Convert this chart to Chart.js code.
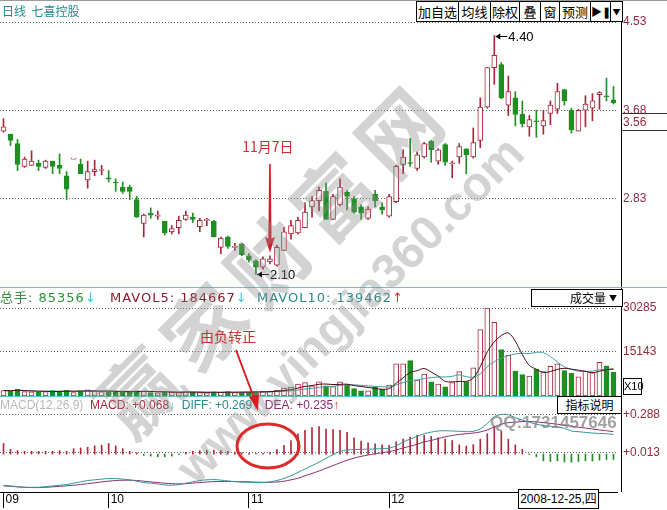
<!DOCTYPE html>
<html>
<head>
<meta charset="utf-8">
<script src="https://cdn.jsdelivr.net/npm/chart.js@4.4.0/dist/chart.umd.min.js"></script>
<style>
  body { margin: 0; background: #fff; }
  #wrap { position: relative; width: 667px; height: 510px; overflow: hidden; font-family: "Noto Sans CJK SC", "Liberation Sans", sans-serif; }
  canvas { position: absolute; left: 0; }
  .t { position: absolute; white-space: nowrap; font-size: 12px; line-height: 14px; font-family: "Liberation Sans", "Noto Sans CJK SC", sans-serif; }
  .vh { position: absolute; white-space: nowrap; top: 291px; font-size: 13px; line-height: 14px; letter-spacing: 1px; font-family: "DejaVu Sans", "Noto Sans CJK SC", sans-serif; }
  .box { position: absolute; border: 1px solid #000; background: #fff; font-size: 12px; text-align: center; box-sizing: border-box; }
  #tb { position: absolute; left: 416px; top: 1px; height: 21px; display: flex; border: 1px solid #000; border-right: none; background: #fff; box-sizing: border-box; }
  #tb span { border-right: 1px solid #000; font-size: 13px; line-height: 19px; text-align: center; box-sizing: border-box; }
  .wm { position: absolute; text-align: center; font-weight: bold; color: rgba(140,140,140,0.38); transform: rotate(-45deg); white-space: nowrap; pointer-events: none; }
</style>
</head>
<body>
<div id="wrap">
  <canvas id="price" width="667" height="287" style="top:0"></canvas>
  <canvas id="vol" width="667" height="109" style="top:287px"></canvas>
  <canvas id="macd" width="667" height="114" style="top:396px"></canvas>
</div>
<script>
// month labels on the bottom axis (index -> text)
var monthLabels = { 0: '09', 15: '10', 35: '11', 55: '12' };
var priceTicks = [4.53, 3.68, 2.83];
var volTicks = [30285, 15143];
var macdTicks = [0.288, 0.013];

var open = [3.48,3.45,3.36,3.14,3.15,3.17,3.13,3.19,3.15,3.05, 3.21,3.16,3.01,3.09,3.10,3.03,2.99,2.94,2.94,2.82,
  2.59,2.69,2.66,2.61,2.51,2.55,2.63,2.65,2.56,2.62, 2.61,2.36,2.46,2.36,2.39,2.28,2.23,2.17,2.22,2.19,
  2.33,2.49,2.50,2.55,2.75,2.81,2.90,2.63,2.77,2.89, 2.83,2.75,2.64,2.87,2.75,2.66,2.80,3.16,3.172,3.12,
  3.23,3.38,3.19,3.35,3.165,3.23,3.31,3.23,3.39,3.71, 4.09,4.12,3.73,3.80,3.64,3.52,3.575,3.53,3.65,3.69,
  3.88,3.68,3.48,3.68,3.70,3.83,3.815,3.78];
var high = [3.60,3.45,3.40,3.23,3.29,3.20,3.20,3.19,3.26,3.09, 3.21,3.21,3.19,3.20,3.15,3.10,3.02,2.99,2.96,2.85,
  2.68,2.74,2.71,2.61,2.57,2.66,2.71,2.69,2.64,2.64, 2.62,2.46,2.47,2.40,2.40,2.30,2.24,2.27,2.28,2.38,
  2.55,2.62,2.65,2.79,2.85,2.94,2.98,2.87,3.02,2.91, 2.85,2.77,2.75,2.91,2.79,2.87,3.15,3.30,3.41,3.28,
  3.37,3.39,3.31,3.36,3.19,3.36,3.31,3.51,3.80,4.09, 4.40,4.14,4.01,3.86,3.77,3.63,3.68,3.68,3.77,3.94,
  3.88,3.70,3.69,3.82,3.84,3.86,3.99,3.91];
var low = [3.47,3.34,3.10,3.13,3.15,3.10,3.12,3.07,3.07,2.82, 3.21,3.07,2.93,3.05,3.06,2.99,2.90,2.88,2.82,2.65,
  2.46,2.64,2.63,2.48,2.49,2.49,2.62,2.60,2.51,2.57, 2.46,2.30,2.35,2.33,2.28,2.22,2.10,2.15,2.20,2.18,
  2.33,2.44,2.49,2.55,2.65,2.71,2.63,2.63,2.76,2.72, 2.69,2.63,2.63,2.75,2.68,2.65,2.79,3.07,3.14,3.10,
  3.22,3.18,3.16,3.15,3.03,3.17,3.07,3.22,3.32,3.70, 3.93,3.79,3.63,3.53,3.52,3.43,3.42,3.45,3.54,3.65,
  3.73,3.46,3.48,3.52,3.58,3.69,3.77,3.74];
var close = [3.52,3.39,3.16,3.21,3.19,3.14,3.19,3.14,3.12,2.92, 3.21,3.07,3.09,3.11,3.11,3.02,2.98,2.90,2.90,2.65,
  2.67,2.67,2.67,2.50,2.54,2.62,2.67,2.63,2.62,2.63, 2.46,2.45,2.37,2.37,2.29,2.24,2.17,2.25,2.25,2.36,
  2.51,2.57,2.62,2.70,2.81,2.91,2.63,2.85,2.94,2.85, 2.70,2.69,2.73,2.81,2.72,2.85,3.14,3.23,3.168,3.25,
  3.36,3.30,3.30,3.18,3.175,3.33,3.25,3.37,3.71,4.09, 4.21,3.80,3.86,3.64,3.55,3.59,3.57,3.58,3.73,3.86,
  3.77,3.49,3.68,3.74,3.77,3.85,3.81,3.75];
// volume, in units of 10 hands (axis shows X10)
var volume = [1900,1700,2300,1500,1400,1300,1500,1900,1600,2000, 1200,1800,2100,1700,1500,1400,1300,1500,1600,1800,
  1700,1200,1100,1400,1300,1200,1500,1300,1200,1100, 1400,1300,1500,1200,1300,1400,1500,1600,1700,2000,
  2700,3100,4100,4600,3490,4886,3490,3250,4886,3840, 2550,1745,1745,3140,2330,3730,11060,11060,12200,5470,
  7570,4890,4070,3140,4650,8380,5000,9660,22900,30260, 25370,15950,13960,8536,7330,6870,9300,8370,10230,11060,
  8720,7790,6630,8490,8140,11630,10360,8140];
var diff = [-0.23,-0.235,-0.24,-0.245,-0.245,-0.245,-0.24,-0.235,-0.23,-0.225, -0.215,-0.205,-0.195,-0.19,-0.185,-0.18,-0.18,-0.185,-0.19,-0.2,
  -0.21,-0.215,-0.22,-0.228,-0.23,-0.225,-0.215,-0.205,-0.195,-0.19, -0.188,-0.192,-0.198,-0.203,-0.207,-0.208,-0.21,-0.21,-0.205,-0.195,
  -0.18,-0.16,-0.135,-0.11,-0.085,-0.06,-0.03,-0.005,0.02,0.03, 0.033,0.035,0.036,0.038,0.04,0.043,0.06,0.09,0.11,0.13,
  0.15,0.162,0.17,0.172,0.17,0.168,0.165,0.168,0.185,0.225, 0.275,0.292,0.29,0.269,0.25,0.235,0.22,0.21,0.205,0.2,
  0.19,0.17,0.165,0.16,0.155,0.152,0.15,0.145];
var dea = [-0.235,-0.238,-0.242,-0.245,-0.247,-0.247,-0.245,-0.242,-0.238,-0.234, -0.23,-0.224,-0.218,-0.212,-0.205,-0.2,-0.195,-0.193,-0.193,-0.195,
  -0.2,-0.205,-0.21,-0.215,-0.218,-0.22,-0.218,-0.214,-0.21,-0.206, -0.203,-0.202,-0.202,-0.203,-0.204,-0.205,-0.207,-0.208,-0.208,-0.206,
  -0.2,-0.19,-0.178,-0.16,-0.143,-0.125,-0.105,-0.085,-0.065,-0.045, -0.03,-0.017,-0.007,0.002,0.01,0.018,0.03,0.045,0.058,0.072,
  0.09,0.1,0.115,0.127,0.137,0.145,0.15,0.155,0.163,0.178, 0.2,0.22,0.232,0.235,0.24,0.24,0.237,0.232,0.226,0.22,
  0.212,0.205,0.198,0.192,0.185,0.178,0.172,0.165];
var macd = [0.078,0.035,0.025,0.02,0.02,0.02,0.02,0.02,0.025,0.02, 0.04,0.045,0.05,0.06,0.065,0.078,0.06,0.04,0.02,0.01,
  -0.01,-0.015,-0.02,-0.02,-0.015,-0.005,0.012,0.02,0.025,0.028, 0.03,0.025,0.02,0.015,0.01,0.005,0.003,0.005,0.01,0.033,
  0.065,0.1,0.15,0.175,0.195,0.202,0.185,0.181,0.175,0.16, 0.12,0.095,0.082,0.075,0.068,0.065,0.09,0.11,0.125,0.139,
  0.139,0.13,0.12,0.11,0.10,0.068,0.058,0.07,0.11,0.15, 0.206,0.17,0.11,0.068,0.035,-0.005,-0.02,-0.05,-0.055,-0.05,
  -0.058,-0.06,-0.055,-0.05,-0.052,-0.045,-0.04,-0.04];

var UP = '#a8283a', DOWN = '#1f8f22';
var labels = close.map(function (c, i) { return i; });
var isUp = close.map(function (c, i) { return c >= open[i]; });
var lineCol = isUp.map(function (u) { return u ? UP : DOWN; });
var fillCol = isUp.map(function (u) { return u ? '#fff' : DOWN; });

function ma(arr, n) {
  return arr.map(function (v, i) {
    var s = arr.slice(Math.max(0, i - n + 1), i + 1);
    return s.reduce(function (a, b) { return a + b; }, 0) / s.length;
  });
}

Chart.defaults.font.family = '"Liberation Sans", Arial, sans-serif';
Chart.defaults.font.size = 12;
Chart.defaults.animation = false;

function rightAxis(min, max, ticks, fmt) {
  return {
    position: 'right', min: min, max: max,
    afterBuildTicks: function (s) { s.ticks = ticks.map(function (v) { return { value: v }; }); },
    afterFit: function (s) { s.width = 50; s.paddingTop = 0; s.paddingBottom = 0; },
    grid: { color: '#666', drawTicks: false, lineWidth: 1 },
    border: { display: false, dash: [1, 2] },
    ticks: { padding: 6, color: '#96283c', callback: fmt }
  };
}
var noPlug = { legend: { display: false }, tooltip: { enabled: false } };
var hiddenX = { display: false, offset: true };

// ---- price marks: high/low labels and the 11月7日 arrow
var priceNotes = {
  id: 'priceNotes',
  afterDatasetsDraw: function (chart) {
    var ctx = chart.ctx, x = chart.scales.x, y = chart.scales.y;
    var hi = high.indexOf(Math.max.apply(null, high));
    var lo = low.indexOf(Math.min.apply(null, low));
    ctx.save();
    [[hi, high[hi]], [lo, low[lo]]].forEach(function (m) {
      var px = x.getPixelForValue(m[0]) + 1, py = Math.round(y.getPixelForValue(m[1])) + 0.5;
      ctx.strokeStyle = '#000'; ctx.fillStyle = '#000'; ctx.lineWidth = 1;
      ctx.beginPath(); ctx.moveTo(px + 1, py); ctx.lineTo(px + 12, py); ctx.stroke();
      ctx.beginPath(); ctx.moveTo(px, py); ctx.lineTo(px + 5, py - 3); ctx.lineTo(px + 5, py + 3); ctx.fill();
      ctx.font = '13px "Liberation Sans", Arial';
      ctx.textBaseline = 'middle'; ctx.textAlign = 'left';
      ctx.fillText(m[1].toFixed(2), px + 13, py + 1);
    });
    var day = 38;
    var ax = x.getPixelForValue(day), tip = y.getPixelForValue(high[day]) - 3;
    ctx.fillStyle = '#d21f26';
    ctx.beginPath();
    ctx.moveTo(ax - 0.8, 164); ctx.lineTo(ax + 0.8, 164);
    ctx.lineTo(ax + 1.6, tip - 14); ctx.lineTo(ax + 5, tip - 16);
    ctx.lineTo(ax, tip); ctx.lineTo(ax - 5, tip - 16); ctx.lineTo(ax - 1.6, tip - 14);
    ctx.closePath(); ctx.fill();
    ctx.fillStyle = '#c8302e';
    ctx.font = '14px "Noto Sans CJK SC"';
    ctx.textAlign = 'center'; ctx.textBaseline = 'middle';
    ctx.fillText('11月7日', ax - 2, 147);
    ctx.restore();
  }
};

new Chart(document.getElementById('price'), {
  type: 'bar',
  data: {
    labels: labels,
    datasets: [
      { data: low.map(function (l, i) { return [l, high[i]]; }), backgroundColor: lineCol,
        barThickness: 1, grouped: false, borderWidth: 0, order: 2 },
      { data: open.map(function (o, i) { return [o, close[i]]; }), backgroundColor: fillCol, borderColor: lineCol,
        borderWidth: 1, borderSkipped: false, barThickness: 5, minBarLength: 1, grouped: false, order: 1 }
    ]
  },
  options: {
    responsive: false, plugins: noPlug,
    layout: { padding: { top: 22, bottom: 2, left: 0, right: 0 } },
    scales: { x: hiddenX, y: rightAxis(1.998, 4.53, priceTicks, function (v) { return v.toFixed(2); }) }
  },
  plugins: [priceNotes]
});

new Chart(document.getElementById('vol'), {
  type: 'bar',
  data: {
    labels: labels,
    datasets: [
      { type: 'line', data: ma(volume, 5), borderColor: '#4a0c14', borderWidth: 1, pointRadius: 0, tension: 0.35, order: 0 },
      { type: 'line', data: ma(volume, 10), borderColor: '#3f9e9e', borderWidth: 1, pointRadius: 0, tension: 0.35, order: 0 },
      { data: volume, backgroundColor: fillCol, borderColor: lineCol, borderWidth: 1, borderSkipped: false,
        barThickness: 5, order: 1 }
    ]
  },
  options: {
    responsive: false, plugins: noPlug,
    layout: { padding: { top: 21, bottom: 0, left: 0, right: 0 } },
    scales: { x: hiddenX, y: rightAxis(0, 30285, volTicks, function (v) { return String(v); }) }
  }
});

var macdAxis = rightAxis(-0.2797, 0.3396, macdTicks, function (v) { return '+' + v.toFixed(3); });
new Chart(document.getElementById('macd'), {
  type: 'bar',
  data: {
    labels: labels,
    datasets: [
      { type: 'line', data: diff, borderColor: '#2f9696', borderWidth: 1, pointRadius: 0, tension: 0.3, order: 0 },
      { type: 'line', data: dea, borderColor: '#8a2c74', borderWidth: 1, pointRadius: 0, tension: 0.3, order: 0 },
      { data: macd, backgroundColor: macd.map(function (v) { return v >= 0 ? '#b0283a' : '#1f8f22'; }),
        barThickness: 1, borderWidth: 0, order: 1 }
    ]
  },
  options: {
    responsive: false, plugins: noPlug,
    layout: { padding: { top: 12, bottom: 0, left: 0, right: 0 } },
    scales: {
      x: {
        offset: true,
        afterFit: function (s) { s.height = 18; s.paddingLeft = 0; s.paddingRight = 0; },
        grid: { offset: false, drawOnChartArea: false, tickLength: 16,
          color: function (c) { return monthLabels[c.index] !== undefined ? '#000' : 'rgba(0,0,0,0)'; } },
        border: { display: true, color: '#000' },
        ticks: { autoSkip: false, maxRotation: 0, align: 'start', labelOffset: 2, padding: -16, color: '#000',
          font: { size: 12 },
          callback: function (v, i) { return monthLabels[i] || ''; } }
      },
      y: macdAxis
    }
  }
});
</script>
<script>
// ---- static panel furniture and annotations
(function () {
  var w = document.getElementById('wrap');
  function add(html) { w.insertAdjacentHTML('beforeend', html); }
  add('<div style="position:absolute;left:0;top:0;width:667px;height:1px;background:#999"></div>');
  add('<div class="t" style="left:2px;top:4px;color:#218c8c;font-family:\'Noto Sans CJK SC\';font-size:12px">日线&nbsp;&nbsp;七喜控股</div>');
  add('<div id="tb"><span style="width:42px">加自选</span><span style="width:32px">均线</span><span style="width:29px">除权</span>' +
      '<span style="width:21px">叠</span><span style="width:19px">窗</span><span style="width:31px">预测</span>' +
      '<span style="width:20px;font-size:11px">&#9654;&#10074;</span><span style="width:12px;font-size:8px">&#9660;</span></div>');
  add('<div style="position:absolute;left:621px;top:22px;width:1px;height:470px;background:#000"></div>');
  add('<div style="position:absolute;left:0;top:287px;width:667px;height:1px;background:#5cc8d0"></div>');
  add('<div style="position:absolute;left:0;top:396px;width:622px;height:1px;background:#5cc8d0"></div>');
  add('<div style="position:absolute;left:622px;top:113px;width:45px;height:1px;background:#333"></div>');
  add('<div style="position:absolute;left:622px;top:130px;width:45px;height:1px;background:#333"></div>');
  add('<div class="t" style="left:623px;top:115px;color:#96283c">3.56</div>');
  // volume header
  add('<div class="vh" style="left:0"><span style="color:#2e8f3a">总手: 85356</span><span style="color:#3cc8d8">&#8595;</span></div>');
  add('<div class="vh" style="left:110px"><span style="color:#8b1a2a">MAVOL5: 184667</span><span style="color:#3cc8d8">&#8595;</span></div>');
  add('<div class="vh" style="left:257px"><span style="color:#2a8a8a">MAVOL10: 139462</span><span style="color:#e0302a">&#8593;</span></div>');
  add('<div class="box" style="left:531px;top:289px;width:92px;height:18px;line-height:16px;font-family:\'Noto Sans CJK SC\'">' +
      '<span style="position:absolute;left:38px">成交量</span><span style="position:absolute;right:5px;font-size:8px">&#9660;</span></div>');
  add('<div class="box" style="left:623px;top:378px;width:19px;height:17px;line-height:15px;font-size:11px;font-family:\'Liberation Sans\'">X10</div>');
  // macd header
  add('<div class="t" style="left:0;top:398px;font-size:12px">' +
      '<span style="color:#b8b8b8">MACD(12,26,9)</span>&nbsp;&nbsp;<span style="color:#a8283a">MACD: +0.068</span><span style="color:#3cc8d8">&#8595;</span>&nbsp;&nbsp;' +
      '<span style="color:#2a8a8a">DIFF: +0.269</span><span style="color:#3cc8d8">&#8595;</span>&nbsp;&nbsp;' +
      '<span style="color:#8a2c74">DEA: +0.235</span><span style="color:#e0302a">&#8593;</span></div>');
  add('<div class="box" style="left:557px;top:396px;width:65px;height:18px;line-height:16px;font-family:\'Noto Sans CJK SC\'">指标说明</div>');
  add('<div class="box" style="left:518px;top:489px;width:81px;height:20px;line-height:18px;font-family:\'Liberation Sans\',\'Noto Sans CJK SC\'">2008-12-25,四</div>');
  // watermark
  add('<div class="wm" style="left:10px;top:200px;width:520px;height:110px;line-height:110px;font-size:80px;letter-spacing:12px;font-family:\'Noto Sans CJK SC\'">赢家财富网</div>');
  add('<div class="wm" style="left:60px;top:280px;width:580px;height:60px;line-height:60px;font-size:48px;font-family:\'Liberation Sans\'">www.yingjia360.com</div>');
  add('<div class="t" style="left:490px;top:413px;font-size:17px;line-height:20px;font-weight:bold;color:rgba(130,130,130,0.75)">QQ:1731457646</div>');
  // 由负转正 note with arrow and circle
  add('<div class="t" style="left:200px;top:328px;font-size:14px;line-height:16px;color:#c8302e;font-family:\'Noto Sans CJK SC\'">由负转正</div>');
  add('<svg style="position:absolute;left:0;top:0" width="667" height="510">' +
      '<line x1="236" y1="350" x2="254" y2="398" stroke="#d21f26" stroke-width="2"/>' +
      '<polygon points="258,411 249,397 259,394" fill="#d21f26"/>' +
      '<ellipse cx="268" cy="446" rx="31" ry="22" fill="none" stroke="#dd2a2a" stroke-width="3"/></svg>');
})();
</script>
</body>
</html>
